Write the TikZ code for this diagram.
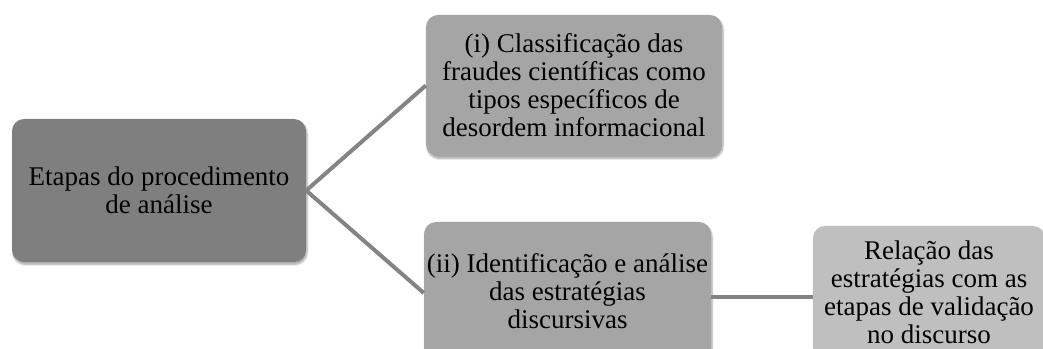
\documentclass[tikz,border=0pt]{standalone}
\usepackage{fontspec}
\setmainfont{Liberation Serif}
\usetikzlibrary{shadows.blur}
\definecolor{darkbox}{HTML}{7F7F7F}
\definecolor{midbox}{HTML}{A5A5A5}
\definecolor{lightbox}{HTML}{BFBFBF}
\definecolor{linkcol}{HTML}{848484}
\tikzset{
  boxbase/.style={rounded corners=12pt, draw=none, align=center, inner sep=0pt,
    font=\fontsize{27}{28}\selectfont, text=black,
    blur shadow={shadow xshift=1pt, shadow yshift=-2.5pt, shadow blur steps=6, shadow opacity=35}},
  link/.style={draw=linkcol, line width=4pt}
}
\begin{document}
\begin{tikzpicture}[x=1pt,y=1pt]
\useasboundingbox (0,0) rectangle (1043,348);
\node[boxbase, fill=darkbox, minimum width=294pt, minimum height=143pt] (L) at (159,157.5)
  {Etapas do procedimento\\de análise};
\node[boxbase, fill=midbox, minimum width=296pt, minimum height=141pt] (T) at (574,262.5)
  {(i) Classificação das\\fraudes científicas como\\tipos específicos de\\desordem informacional};
\node[boxbase, fill=midbox, minimum width=287pt, minimum height=138pt] (M) at (567.5,57)
  {(ii) Identificação e análise\\das estratégias\\discursivas};
\node[boxbase, fill=lightbox, minimum width=232pt, minimum height=132pt] (R) at (929,56)
  {Relação das\\estratégias com as\\etapas de validação\\no discurso};
\draw[link] (L.east) -- (T.west);
\draw[link] (L.east) -- ([yshift=-2pt]M.west);
\draw[link] ([yshift=-6pt]M.east) -- ([yshift=-6pt]M.east -| R.west);
\end{tikzpicture}
\end{document}
